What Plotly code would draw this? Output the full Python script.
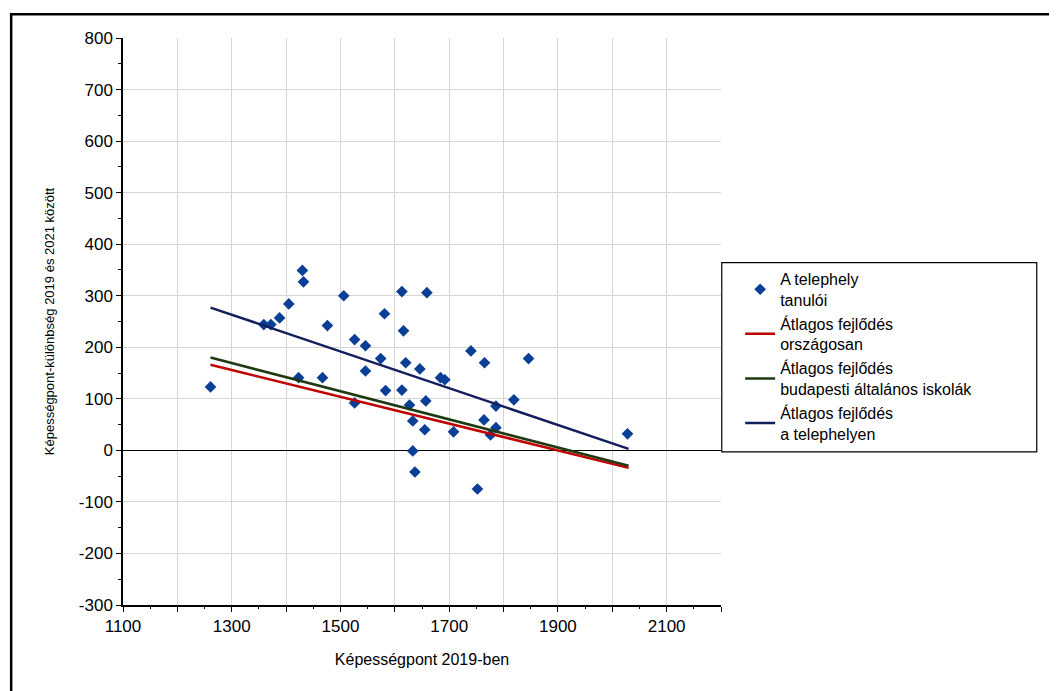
import plotly.graph_objects as go

# Students of the site: 2019 score vs. change 2019->2021
score_2019 = [1261, 1359, 1372, 1388, 1405, 1430, 1432, 1423, 1467, 1476,
              1506, 1526, 1526, 1546, 1546, 1574, 1581, 1583, 1613, 1659,
              1616, 1620, 1613, 1627, 1646, 1657, 1633, 1655, 1633, 1637,
              1684, 1692, 1708, 1740, 1765, 1764, 1786, 1786, 1776, 1752,
              1819, 1846, 2028]
score_diff = [123, 244, 244, 257, 284, 349, 327, 141, 141, 242,
              300, 215, 92, 203, 154, 178, 265, 116, 308, 306,
              232, 170, 117, 88, 158, 96, 57, 40, -1, -42,
              141, 137, 36, 193, 170, 59, 86, 44, 30, -75,
              98, 178, 32]

# Trend lines (end points)
trend_x = [1261, 2030]
trend_orszagos = [166, -34]
trend_budapest = [180, -30]
trend_telephely = [277, 3]

x_tickvals = [1100, 1200, 1300, 1400, 1500, 1600, 1700, 1800, 1900, 2000, 2100, 2200]
x_ticktext = ["1100", "", "1300", "", "1500", "", "1700", "", "1900", "", "2100", ""]
y_tickvals = [-300, -200, -100, 0, 100, 200, 300, 400, 500, 600, 700, 800]
y_ticktext = ["-300", "-200", "-100", "0", "100", "200", "300", "400", "500", "600", "700", "800"]

FONT = "Liberation Sans, Arial, sans-serif"

fig = go.Figure()

fig.add_trace(go.Scatter(x=score_2019, y=score_diff, mode="markers",
    name="A telephely<br>tanulói",
    marker=dict(symbol="diamond", size=9, color="#0b3f96")))
fig.add_trace(go.Scatter(x=trend_x, y=trend_orszagos, mode="lines",
    name="Átlagos fejlődés<br>országosan",
    line=dict(color="#c00000", width=2.5)))
fig.add_trace(go.Scatter(x=trend_x, y=trend_budapest, mode="lines",
    name="Átlagos fejlődés<br>budapesti általános iskolák",
    line=dict(color="#1e3a10", width=2.5)))
fig.add_trace(go.Scatter(x=trend_x, y=trend_telephely, mode="lines",
    name="Átlagos fejlődés<br>a telephelyen",
    line=dict(color="#141e5c", width=2.5)))

fig.update_xaxes(range=[1100, 2200], tickvals=x_tickvals, ticktext=x_ticktext,
    showline=True, linecolor="black", linewidth=1.5,
    ticks="outside", ticklen=5, tickcolor="black",
    minor=dict(ticks="outside", ticklen=2, tickcolor="black", dtick=50, showgrid=False),
    showgrid=True, gridcolor="#d6d6d6", gridwidth=1, zeroline=False,
    tickfont=dict(size=17, color="black"),
    title=dict(text="Képességpont 2019-ben", font=dict(size=16, color="black"), standoff=19))
fig.update_yaxes(range=[-300, 800], tickvals=y_tickvals, ticktext=y_ticktext,
    showline=True, linecolor="black", linewidth=1.5,
    ticks="outside", ticklen=5, tickcolor="black",
    minor=dict(ticks="outside", ticklen=3, tickcolor="black", dtick=50, showgrid=False),
    showgrid=True, gridcolor="#d6d6d6", gridwidth=1,
    zeroline=True, zerolinecolor="black", zerolinewidth=1.2,
    tickfont=dict(size=17, color="black"),
    title=dict(text="Képességpont-különbség 2019 és 2021 között", font=dict(size=13, color="black"), standoff=21))

# page has an 8px body margin; plot area lands at 123..721 x 38..605 in the window
fig.update_layout(
    width=1049, height=683,
    margin=dict(l=115, r=336, t=30, b=86),
    plot_bgcolor="white", paper_bgcolor="white",
    font=dict(family=FONT, color="black"),
    legend=dict(x=1.032, xanchor="left", y=0.605, yanchor="top",
                bgcolor="rgba(0,0,0,0)", borderwidth=0,
                font=dict(size=16, color="black")),
    shapes=[
        # legend box
        dict(type="rect", xref="paper", yref="paper", x0=1.0013, x1=1.528,
             y0=0.27, y1=0.6037, line=dict(color="black", width=1.2)),
        # outer frame
        dict(type="rect", xref="paper", yref="paper", x0=-0.187, x1=1.6,
             y0=-0.2, y1=1.042, line=dict(color="black", width=2.5)),
    ],
)

fig.write_html("out.html")
